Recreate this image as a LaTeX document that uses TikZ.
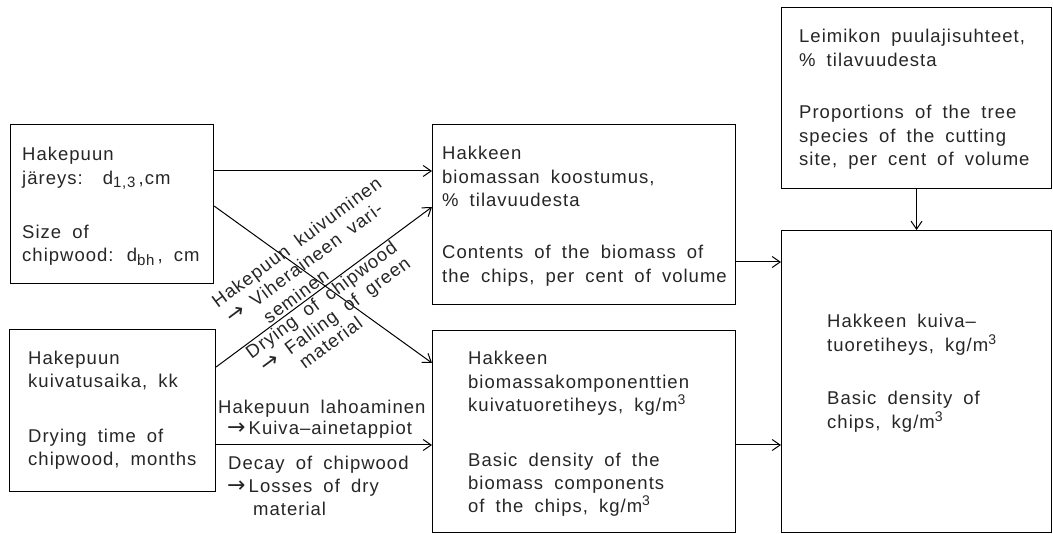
\documentclass[tikz,border=0pt]{standalone}
\usepackage{fontspec}
\setmainfont[LetterSpace=5.5,WordSpace=1.8]{Liberation Sans}
\newfontfamily\symf{DejaVu Sans}
\usetikzlibrary{arrows.meta}
\newcommand\lsub[1]{\raisebox{-0.35ex}{\fontsize{15}{15}\selectfont #1}}
\newcommand\lsup[1]{\raisebox{0.75ex}{\fontsize{14}{14}\selectfont #1}}
\newcommand\rarr{{\fontsize{22}{20}\selectfont\symf →}}
\begin{document}
\begin{tikzpicture}[x=1pt,y=-1pt,
  box/.style={draw, line width=1.1pt, rectangle, inner sep=0pt, anchor=north west},
  txt/.style={anchor=base west, align=left, inner sep=0pt, font=\fontsize{18.5}{23.5}\selectfont, text=black!85},
  arr/.style={line width=1pt, -{Straight Barb[length=8pt,width=11pt]}}]
\useasboundingbox (0,0) rectangle (1053,534);
% boxes
\node[box, minimum width=203pt, minimum height=159pt] (b1) at (10,124) {};
\node[box, minimum width=206pt, minimum height=162pt] (b2) at (9,329) {};
\node[box, minimum width=303pt, minimum height=180pt] (b3) at (432,124) {};
\node[box, minimum width=303pt, minimum height=202pt] (b4) at (432,330) {};
\node[box, minimum width=270pt, minimum height=181pt] (b5) at (781,7) {};
\node[box, minimum width=270pt, minimum height=302pt] (b6) at (781,230) {};
% texts (anchored at the baseline of their last line)
\node[txt] (t1a) at (22,184.5) {Hakepuun\\järeys:\hspace{20pt}d\lsub{1,3}\,,cm};
\node[txt] (t1b) at (22,262) {Size of\\chipwood: d\lsub{bh}\,, cm};
\node[txt] (t2a) at (28,388) {Hakepuun\\kuivatusaika, kk};
\node[txt] (t2b) at (28,466) {Drying time of\\chipwood, months};
\node[txt] (t3a) at (442,207) {Hakkeen\\biomassan koostumus,\\\% tilavuudesta};
\node[txt] (t3b) at (442,282.5) {Contents of the biomass of\\the chips, per cent of volume};
\node[txt] (t4a) at (468,412) {Hakkeen\\biomassakomponenttien\\kuivatuoretiheys, kg/m\lsup{3}};
\node[txt] (t4b) at (468,513) {Basic density of the\\biomass components\\of the chips, kg/m\lsup{3}};
\node[txt] (t5a) at (799,66.5) {Leimikon puulajisuhteet,\\\% tilavuudesta};
\node[txt] (t5b) at (799,166) {Proportions of the tree\\species of the cutting\\site, per cent of volume};
\node[txt] (t6a) at (827,351.5) {Hakkeen kuiva–\\tuoretiheys, kg/m\lsup{3}};
\node[txt] (t6b) at (827,428.5) {Basic density of\\chips, kg/m\lsup{3}};
% labels of the lower arrow
\node[txt] (l1) at (218,414) {Hakepuun lahoaminen};
\node[txt] (l2) at (227,435) {\rarr\,Kuiva–ainetappiot};
\node[txt] (l3) at (228,470) {Decay of chipwood};
\node[txt] (l4) at (227,493) {\rarr\,Losses of dry};
\node[txt] (l5) at (253,515) {material};
% connectors
\draw[arr] ([yshift=-47pt]b1.north east) -- ([yshift=-47pt]b3.north west);
\draw[arr] ([yshift=-82pt]b1.north east) -- ([yshift=-33pt]b4.north west);
\coordinate (o) at ([yshift=-38pt]b2.north east);
\draw[arr] (o) -- ([yshift=-83pt]b3.north west);
\draw[arr] ([yshift=-116pt]b2.north east) -- ([yshift=-115pt]b4.north west);
\draw[arr] ([yshift=-138pt]b3.north east) -- ([yshift=-32pt]b6.north west);
\draw[arr] ([yshift=-115pt]b4.north east) -- ([yshift=-215pt]b6.north west);
\draw[arr] (b5.south) -- (b6.north);
% rotated labels
\begin{scope}[shift={(o)}, rotate=36.5]
\node[txt, transform shape] (r1) at (36,-46) {Hakepuun kuivuminen};
\node[txt, transform shape] (r2) at (38,-24.5) {\rarr\ Viheraineen vari-};
\node[txt, transform shape] (r3) at (68,-3) {seminen};
\node[txt, transform shape] (r4) at (33,15) {Drying of chipwood};
\node[txt, transform shape] (r5) at (37,35) {\rarr\ Falling of green};
\node[txt, transform shape] (r6) at (70,55) {material};
\end{scope}
\end{tikzpicture}
\end{document}
